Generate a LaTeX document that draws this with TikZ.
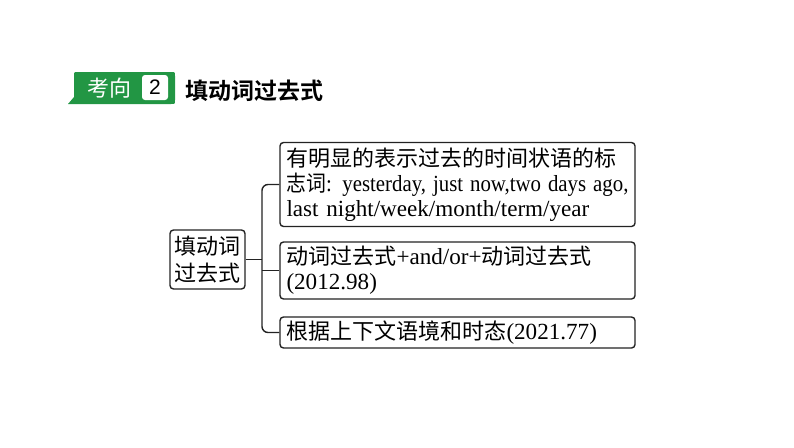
\documentclass[tikz,border=0pt]{standalone}
\usepackage{fontspec}
\setmainfont{Liberation Serif}[Scale=1.05]
\newfontfamily\cjk{Noto Sans CJK SC}
\newfontfamily\cjkb{Noto Sans CJK SC Bold}
\newfontfamily\hsans{Liberation Sans}
\definecolor{hgreen}{RGB}{34,150,68}
\definecolor{edge}{RGB}{35,35,35}
\tikzset{
  box/.style={draw=edge, line width=1.4pt, rounded corners=3.5pt, inner sep=0pt},
  wbox/.style={box, minimum width=355pt, text width=342pt, align=left},
  conn/.style={draw=edge, line width=1.4pt},
  txt/.style={font=\fontsize{22}{25}\selectfont}
}
\begin{document}
\begin{tikzpicture}[x=1pt,y=-1pt]
\useasboundingbox (0,0) rectangle (794,447);
% header
\fill[hgreen] (68,104) -- (74,97) -- (74,76) .. controls (74,72) .. (78,72) -- (171,72) .. controls (175,72) .. (175,76) -- (175,100) .. controls (175,104) .. (171,104) -- cycle;
\node[text=white, inner sep=0pt, font=\cjk\fontsize{22}{22}\selectfont] (kx) at (109,88) {考向};
\node[fill=white, rounded corners=3pt, minimum width=26pt, minimum height=25pt, inner sep=0pt, font=\hsans\fontsize{21}{21}\selectfont] (num) at (155,87.5) {2};
\node[anchor=west, inner sep=0pt, font=\cjkb\fontsize{23}{23}\selectfont] (title) at (185,91) {填动词过去式};
% boxes
\node[box, minimum width=75pt, minimum height=59pt, align=center, font=\cjk\fontsize{22}{27}\selectfont] (L) at (207.5,259.5) {填动词\\过去式};
\node[wbox, minimum height=84pt, txt] (b1) at (457.5,184.5) {\makebox[342pt][s]{{\cjk 有明显的表示过去的时间状语的标}}\\\resizebox{342pt}{\height}{{\cjk 志词}: yesterday, just now,two days ago,}\\last night/week/month/term/year};
\node[wbox, minimum height=57pt, txt] (b2) at (457.5,270.5) {{\cjk 动词过去式}+and/or+{\cjk 动词过去式}\\(2012.98)};
\node[wbox, minimum height=31pt, txt] (b3) at (457.5,332.5) {{\cjk 根据上下文语境和时态}(2021.77)};
% connectors
\coordinate (j) at (262,259.5);
\draw[conn] (L.east) -- (j);
\draw[conn, rounded corners=6pt] (b1.west) -| (j) |- (b3.west);
\draw[conn] (j |- b2.west) -- (b2.west);
\end{tikzpicture}
\end{document}
